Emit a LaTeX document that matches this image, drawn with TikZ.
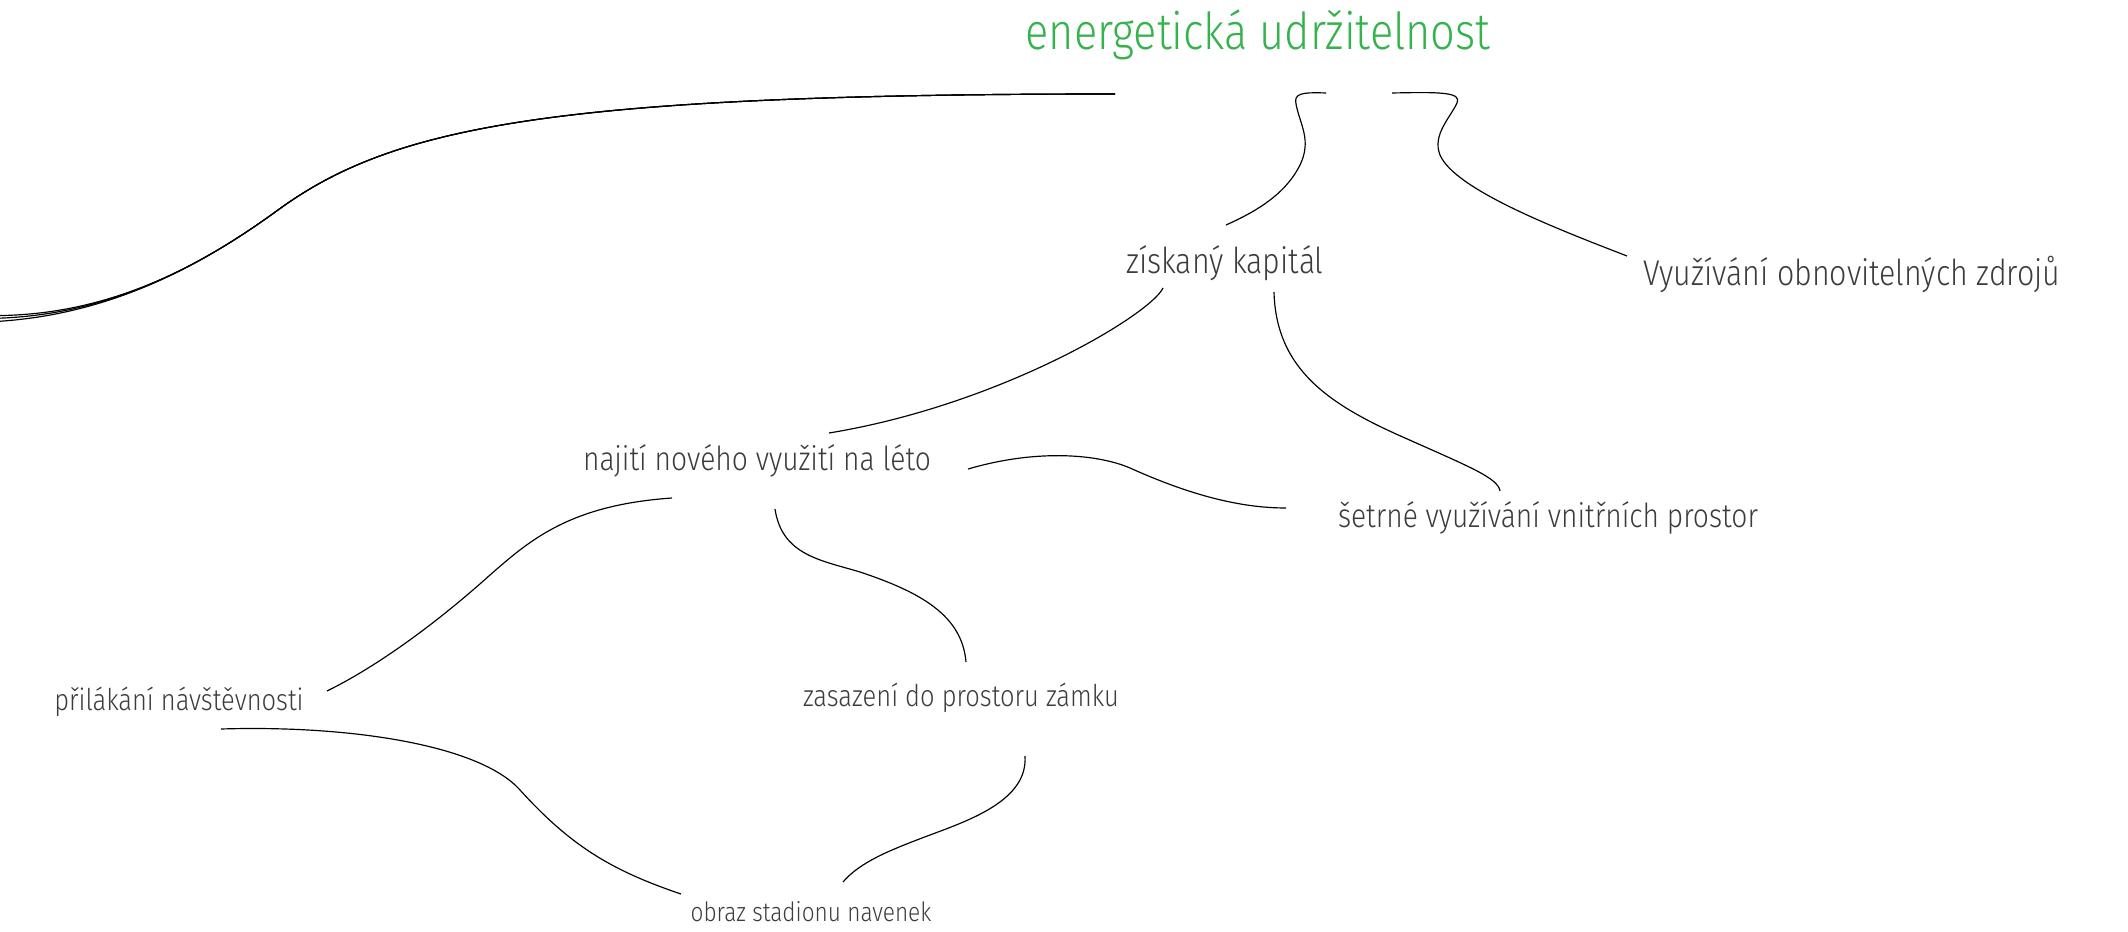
\documentclass[tikz,border=0pt]{standalone}
\usepackage{fontspec}
\setmainfont{Fira Sans}[UprightFont={* Light},FakeStretch=0.85]
\definecolor{rootgreen}{RGB}{52,178,76}
\definecolor{inkgray}{RGB}{60,60,60}

\begin{document}
\begin{tikzpicture}[x=0.03cm,y=-0.03cm,
  topic/.style={anchor=base,inner sep=0pt,text=inkgray},
  root topic/.style={topic,text=rootgreen,font=\fontsize{43.5}{46}\selectfont},
  main topic/.style={topic,font=\fontsize{30.5}{33}\selectfont},
  sub topic/.style={topic,font=\fontsize{28.3}{31}\selectfont},
  small topic/.style={topic,font=\fontsize{25.6}{28}\selectfont},
  tiny topic/.style={topic,font=\fontsize{22.7}{25}\selectfont},
  branch/.style={line width=1pt,black}]

  \useasboundingbox (0,0) rectangle (2128,932);
  \clip (0,0) rectangle (2128,932);

  % Topics

  \node [root topic] at (1258,50) (root) {energetická udržitelnost};
  \node [main topic] at (1225,273) (ziskany) {získaný kapitál};
  \node [main topic] at (1852,286) (zdroje) {Využívání obnovitelných zdrojů};
  \node [sub topic] at (757,470) (najiti) {najití nového využití na léto};
  \node [sub topic] at (1548,527) (setrne) {šetrné využívání vnitřních prostor};
  \node [small topic] at (179,710) (prilakani) {přilákání návštěvnosti};
  \node [small topic] at (961,706) (zasazeni) {zasazení do prostoru zámku};
  \node [tiny topic] at (811,921) (obraz) {obraz stadionu navenek};

  % the branch that leaves the page on the left
  \coordinate (off a) at (-15,315.5);
  \coordinate (off b) at (-15,318.5);
  \coordinate (off c) at (-15,322);

  \foreach \off in {off a,off b,off c}
    \draw [branch] ([shift={(-143,44)}]root.base) .. controls (550,94) and (392,127) .. (278,210)
      .. controls (193,272) and (100,318) .. (\off);

  % Connections

  \draw [branch] ([shift={(68,43)}]root.base) .. controls (1300,92) and (1294,94) .. (1296,104)
    .. controls (1300,125) and (1312,140) .. (1300,165)
    .. controls (1285,195) and (1255,212) .. ([shift={(1,-48)}]ziskany.base);
  \draw [branch] ([shift={(134,43)}]root.base) .. controls (1440,92) and (1462,92) .. (1457,103)
    .. controls (1450,118) and (1432,135) .. (1440,155)
    .. controls (1455,190) and (1560,230) .. ([shift={(-225,-30)}]zdroje.base);

  \draw [branch] ([shift={(-62,15)}]ziskany.base) .. controls (1150,315) and (1000,405)
    .. ([shift={(72,-37)}]najiti.base);
  \draw [branch] ([shift={(49,19)}]ziskany.base) .. controls (1276,370) and (1330,405) .. (1405,438)
    .. controls (1470,467) and (1498,478) .. ([shift={(-48,-36)}]setrne.base);

  \draw [branch] ([shift={(211,-1)}]najiti.base) .. controls (1040,448) and (1100,455) .. (1130,468)
    .. controls (1190,495) and (1240,508) .. ([shift={(-262,-19)}]setrne.base);
  \draw [branch] ([shift={(-85,28)}]najiti.base) .. controls (570,505) and (530,540) .. (490,575)
    .. controls (440,620) and (380,665) .. ([shift={(148,-19)}]prilakani.base);
  \draw [branch] ([shift={(18,39)}]najiti.base) .. controls (782,555) and (820,560) .. (860,572)
    .. controls (920,592) and (962,615) .. ([shift={(5,-44)}]zasazeni.base);

  \draw [branch] ([shift={(42,19)}]prilakani.base) .. controls (350,725) and (480,745) .. (520,790)
    .. controls (570,845) and (610,870) .. ([shift={(-130,-27)}]obraz.base);
  \draw [branch] ([shift={(64,50)}]zasazeni.base) .. controls (1028,800) and (970,820) .. (930,835)
    .. controls (890,850) and (860,862) .. ([shift={(32,-39)}]obraz.base);

\end{tikzpicture}
\end{document}
